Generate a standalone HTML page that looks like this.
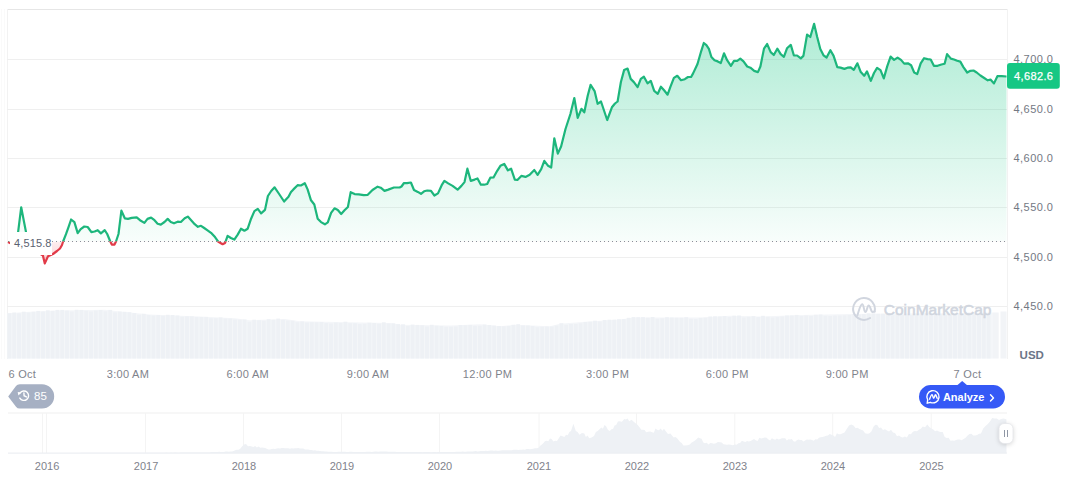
<!DOCTYPE html>
<html><head><meta charset="utf-8"><style>
html,body{margin:0;padding:0;background:#fff;}
body{width:1072px;height:477px;overflow:hidden;}
svg{display:block;}
</style></head><body>
<svg width="1072" height="477" viewBox="0 0 1072 477" font-family="'Liberation Sans', sans-serif">
<defs>
<linearGradient id="gfill" gradientUnits="userSpaceOnUse" x1="0" y1="23" x2="0" y2="241.5">
<stop offset="0" stop-color="#16c784" stop-opacity="0.345"/>
<stop offset="1" stop-color="#16c784" stop-opacity="0.03"/>
</linearGradient>
<linearGradient id="rfill" gradientUnits="userSpaceOnUse" x1="0" y1="241.5" x2="0" y2="264">
<stop offset="0" stop-color="#ea3943" stop-opacity="0.08"/>
<stop offset="1" stop-color="#ea3943" stop-opacity="0.25"/>
</linearGradient>
<clipPath id="above"><rect x="0" y="0" width="1072" height="241.5"/></clipPath>
<clipPath id="below"><rect x="0" y="241.5" width="1072" height="200"/></clipPath>
</defs>
<rect x="0" y="0" width="1072" height="477" fill="#fff"/>
<!-- frame -->
<line x1="1.5" y1="9" x2="1.5" y2="359" stroke="#fafafa" stroke-width="1"/>
<line x1="4.5" y1="9" x2="4.5" y2="359" stroke="#fafafa" stroke-width="1"/>
<line x1="7" y1="9.5" x2="1008" y2="9.5" stroke="#e6e6e6" stroke-width="1"/>
<line x1="7.5" y1="9" x2="7.5" y2="359" stroke="#f2f2f2" stroke-width="1"/>
<line x1="1007.5" y1="9" x2="1007.5" y2="359" stroke="#f2f2f2" stroke-width="1"/>
<line x1="7" y1="59.5" x2="1007" y2="59.5" stroke="#efefef" stroke-width="1"/>
<line x1="7" y1="109.5" x2="1007" y2="109.5" stroke="#efefef" stroke-width="1"/>
<line x1="7" y1="158.5" x2="1007" y2="158.5" stroke="#efefef" stroke-width="1"/>
<line x1="7" y1="207.5" x2="1007" y2="207.5" stroke="#efefef" stroke-width="1"/>
<line x1="7" y1="257.5" x2="1007" y2="257.5" stroke="#efefef" stroke-width="1"/>
<line x1="7" y1="306.5" x2="1007" y2="306.5" stroke="#efefef" stroke-width="1"/>
<!-- volume -->
<path d="M7.5,313.3 L25.0,312.1 L55.0,310.4 L105.0,309.7 L120.0,311.6 L150.0,314.6 L200.0,316.5 L235.0,318.2 L250.0,320.2 L285.0,318.9 L300.0,321.3 L350.0,322.3 L390.0,323.0 L400.0,324.7 L450.0,325.5 L480.0,324.3 L500.0,326.2 L515.0,324.7 L550.0,326.2 L560.0,323.8 L585.0,321.8 L620.0,319.4 L635.0,317.5 L670.0,317.5 L700.0,317.5 L730.0,315.8 L760.0,316.5 L800.0,315.0 L850.0,314.0 L900.0,313.6 L950.0,313.3 L993.0,312.6 L993,358.5 L7.5,358.5 Z" fill="#f4f6f9"/>
<rect x="7.50" y="313.3" width="3.8" height="45.2" fill="#eef1f5"/>
<rect x="12.30" y="312.6" width="3.8" height="45.9" fill="#eef1f5"/>
<rect x="17.10" y="313.3" width="3.8" height="45.2" fill="#eef1f5"/>
<rect x="21.90" y="311.7" width="3.8" height="46.8" fill="#eef1f5"/>
<rect x="26.70" y="312.5" width="3.8" height="46.0" fill="#eef1f5"/>
<rect x="31.50" y="311.8" width="3.8" height="46.7" fill="#eef1f5"/>
<rect x="36.30" y="310.9" width="3.8" height="47.6" fill="#eef1f5"/>
<rect x="41.10" y="311.6" width="3.8" height="46.9" fill="#eef1f5"/>
<rect x="45.90" y="310.3" width="3.8" height="48.2" fill="#eef1f5"/>
<rect x="50.70" y="310.9" width="3.8" height="47.6" fill="#eef1f5"/>
<rect x="55.50" y="309.9" width="3.8" height="48.6" fill="#eef1f5"/>
<rect x="60.30" y="309.9" width="3.8" height="48.6" fill="#eef1f5"/>
<rect x="65.10" y="310.6" width="3.8" height="47.9" fill="#eef1f5"/>
<rect x="69.90" y="311.4" width="3.8" height="47.1" fill="#eef1f5"/>
<rect x="74.70" y="309.8" width="3.8" height="48.7" fill="#eef1f5"/>
<rect x="79.50" y="309.9" width="3.8" height="48.6" fill="#eef1f5"/>
<rect x="84.30" y="310.7" width="3.8" height="47.8" fill="#eef1f5"/>
<rect x="89.10" y="311.4" width="3.8" height="47.1" fill="#eef1f5"/>
<rect x="93.90" y="310.5" width="3.8" height="48.0" fill="#eef1f5"/>
<rect x="98.70" y="310.0" width="3.8" height="48.5" fill="#eef1f5"/>
<rect x="103.50" y="311.3" width="3.8" height="47.2" fill="#eef1f5"/>
<rect x="108.30" y="309.9" width="3.8" height="48.6" fill="#eef1f5"/>
<rect x="113.10" y="312.3" width="3.8" height="46.2" fill="#eef1f5"/>
<rect x="117.90" y="311.6" width="3.8" height="46.9" fill="#eef1f5"/>
<rect x="122.70" y="311.8" width="3.8" height="46.7" fill="#eef1f5"/>
<rect x="127.50" y="312.2" width="3.8" height="46.3" fill="#eef1f5"/>
<rect x="132.30" y="313.1" width="3.8" height="45.4" fill="#eef1f5"/>
<rect x="137.10" y="314.7" width="3.8" height="43.8" fill="#eef1f5"/>
<rect x="141.90" y="313.8" width="3.8" height="44.7" fill="#eef1f5"/>
<rect x="146.70" y="315.1" width="3.8" height="43.4" fill="#eef1f5"/>
<rect x="151.50" y="315.5" width="3.8" height="43.0" fill="#eef1f5"/>
<rect x="156.30" y="315.1" width="3.8" height="43.4" fill="#eef1f5"/>
<rect x="161.10" y="315.7" width="3.8" height="42.8" fill="#eef1f5"/>
<rect x="165.90" y="314.8" width="3.8" height="43.7" fill="#eef1f5"/>
<rect x="170.70" y="315.0" width="3.8" height="43.5" fill="#eef1f5"/>
<rect x="175.50" y="315.5" width="3.8" height="43.0" fill="#eef1f5"/>
<rect x="180.30" y="316.7" width="3.8" height="41.8" fill="#eef1f5"/>
<rect x="185.10" y="316.3" width="3.8" height="42.2" fill="#eef1f5"/>
<rect x="189.90" y="316.3" width="3.8" height="42.2" fill="#eef1f5"/>
<rect x="194.70" y="317.1" width="3.8" height="41.4" fill="#eef1f5"/>
<rect x="199.50" y="317.0" width="3.8" height="41.5" fill="#eef1f5"/>
<rect x="204.30" y="316.9" width="3.8" height="41.6" fill="#eef1f5"/>
<rect x="209.10" y="318.2" width="3.8" height="40.3" fill="#eef1f5"/>
<rect x="213.90" y="318.2" width="3.8" height="40.3" fill="#eef1f5"/>
<rect x="218.70" y="317.4" width="3.8" height="41.1" fill="#eef1f5"/>
<rect x="223.50" y="318.4" width="3.8" height="40.1" fill="#eef1f5"/>
<rect x="228.30" y="318.5" width="3.8" height="40.0" fill="#eef1f5"/>
<rect x="233.10" y="319.5" width="3.8" height="39.0" fill="#eef1f5"/>
<rect x="237.90" y="319.8" width="3.8" height="38.7" fill="#eef1f5"/>
<rect x="242.70" y="319.5" width="3.8" height="39.0" fill="#eef1f5"/>
<rect x="247.50" y="321.7" width="3.8" height="36.8" fill="#eef1f5"/>
<rect x="252.30" y="319.7" width="3.8" height="38.8" fill="#eef1f5"/>
<rect x="257.10" y="320.2" width="3.8" height="38.3" fill="#eef1f5"/>
<rect x="261.90" y="320.8" width="3.8" height="37.7" fill="#eef1f5"/>
<rect x="266.70" y="319.2" width="3.8" height="39.3" fill="#eef1f5"/>
<rect x="271.50" y="319.8" width="3.8" height="38.7" fill="#eef1f5"/>
<rect x="276.30" y="318.6" width="3.8" height="39.9" fill="#eef1f5"/>
<rect x="281.10" y="319.8" width="3.8" height="38.7" fill="#eef1f5"/>
<rect x="285.90" y="320.4" width="3.8" height="38.1" fill="#eef1f5"/>
<rect x="290.70" y="320.8" width="3.8" height="37.7" fill="#eef1f5"/>
<rect x="295.50" y="322.2" width="3.8" height="36.3" fill="#eef1f5"/>
<rect x="300.30" y="321.4" width="3.8" height="37.1" fill="#eef1f5"/>
<rect x="305.10" y="322.4" width="3.8" height="36.1" fill="#eef1f5"/>
<rect x="309.90" y="322.2" width="3.8" height="36.3" fill="#eef1f5"/>
<rect x="314.70" y="322.3" width="3.8" height="36.2" fill="#eef1f5"/>
<rect x="319.50" y="322.1" width="3.8" height="36.4" fill="#eef1f5"/>
<rect x="324.30" y="323.1" width="3.8" height="35.4" fill="#eef1f5"/>
<rect x="329.10" y="323.4" width="3.8" height="35.1" fill="#eef1f5"/>
<rect x="333.90" y="322.5" width="3.8" height="36.0" fill="#eef1f5"/>
<rect x="338.70" y="323.0" width="3.8" height="35.5" fill="#eef1f5"/>
<rect x="343.50" y="321.7" width="3.8" height="36.8" fill="#eef1f5"/>
<rect x="348.30" y="323.2" width="3.8" height="35.3" fill="#eef1f5"/>
<rect x="353.10" y="323.2" width="3.8" height="35.3" fill="#eef1f5"/>
<rect x="357.90" y="324.1" width="3.8" height="34.4" fill="#eef1f5"/>
<rect x="362.70" y="323.8" width="3.8" height="34.7" fill="#eef1f5"/>
<rect x="367.50" y="322.7" width="3.8" height="35.8" fill="#eef1f5"/>
<rect x="372.30" y="323.0" width="3.8" height="35.5" fill="#eef1f5"/>
<rect x="377.10" y="323.7" width="3.8" height="34.8" fill="#eef1f5"/>
<rect x="381.90" y="322.3" width="3.8" height="36.2" fill="#eef1f5"/>
<rect x="386.70" y="323.4" width="3.8" height="35.1" fill="#eef1f5"/>
<rect x="391.50" y="323.3" width="3.8" height="35.2" fill="#eef1f5"/>
<rect x="396.30" y="324.1" width="3.8" height="34.4" fill="#eef1f5"/>
<rect x="401.10" y="324.3" width="3.8" height="34.2" fill="#eef1f5"/>
<rect x="405.90" y="325.9" width="3.8" height="32.6" fill="#eef1f5"/>
<rect x="410.70" y="324.6" width="3.8" height="33.9" fill="#eef1f5"/>
<rect x="415.50" y="324.9" width="3.8" height="33.6" fill="#eef1f5"/>
<rect x="420.30" y="325.3" width="3.8" height="33.2" fill="#eef1f5"/>
<rect x="425.10" y="326.4" width="3.8" height="32.1" fill="#eef1f5"/>
<rect x="429.90" y="324.8" width="3.8" height="33.7" fill="#eef1f5"/>
<rect x="434.70" y="325.7" width="3.8" height="32.8" fill="#eef1f5"/>
<rect x="439.50" y="326.0" width="3.8" height="32.5" fill="#eef1f5"/>
<rect x="444.30" y="326.8" width="3.8" height="31.7" fill="#eef1f5"/>
<rect x="449.10" y="326.7" width="3.8" height="31.8" fill="#eef1f5"/>
<rect x="453.90" y="326.6" width="3.8" height="31.9" fill="#eef1f5"/>
<rect x="458.70" y="325.1" width="3.8" height="33.4" fill="#eef1f5"/>
<rect x="463.50" y="325.2" width="3.8" height="33.3" fill="#eef1f5"/>
<rect x="468.30" y="324.9" width="3.8" height="33.6" fill="#eef1f5"/>
<rect x="473.10" y="325.8" width="3.8" height="32.7" fill="#eef1f5"/>
<rect x="477.90" y="325.8" width="3.8" height="32.7" fill="#eef1f5"/>
<rect x="482.70" y="324.5" width="3.8" height="34.0" fill="#eef1f5"/>
<rect x="487.50" y="325.0" width="3.8" height="33.5" fill="#eef1f5"/>
<rect x="492.30" y="325.6" width="3.8" height="32.9" fill="#eef1f5"/>
<rect x="497.10" y="326.0" width="3.8" height="32.5" fill="#eef1f5"/>
<rect x="501.90" y="326.3" width="3.8" height="32.2" fill="#eef1f5"/>
<rect x="506.70" y="326.0" width="3.8" height="32.5" fill="#eef1f5"/>
<rect x="511.50" y="324.8" width="3.8" height="33.7" fill="#eef1f5"/>
<rect x="516.30" y="324.2" width="3.8" height="34.3" fill="#eef1f5"/>
<rect x="521.10" y="325.4" width="3.8" height="33.1" fill="#eef1f5"/>
<rect x="525.90" y="325.5" width="3.8" height="33.0" fill="#eef1f5"/>
<rect x="530.70" y="326.1" width="3.8" height="32.4" fill="#eef1f5"/>
<rect x="535.50" y="327.2" width="3.8" height="31.3" fill="#eef1f5"/>
<rect x="540.30" y="326.8" width="3.8" height="31.7" fill="#eef1f5"/>
<rect x="545.10" y="326.6" width="3.8" height="31.9" fill="#eef1f5"/>
<rect x="549.90" y="326.5" width="3.8" height="32.0" fill="#eef1f5"/>
<rect x="554.70" y="325.5" width="3.8" height="33.0" fill="#eef1f5"/>
<rect x="559.50" y="323.2" width="3.8" height="35.3" fill="#eef1f5"/>
<rect x="564.30" y="324.7" width="3.8" height="33.8" fill="#eef1f5"/>
<rect x="569.10" y="324.0" width="3.8" height="34.5" fill="#eef1f5"/>
<rect x="573.90" y="323.9" width="3.8" height="34.6" fill="#eef1f5"/>
<rect x="578.70" y="323.3" width="3.8" height="35.2" fill="#eef1f5"/>
<rect x="583.50" y="322.0" width="3.8" height="36.5" fill="#eef1f5"/>
<rect x="588.30" y="321.7" width="3.8" height="36.8" fill="#eef1f5"/>
<rect x="593.10" y="320.7" width="3.8" height="37.8" fill="#eef1f5"/>
<rect x="597.90" y="321.6" width="3.8" height="36.9" fill="#eef1f5"/>
<rect x="602.70" y="320.0" width="3.8" height="38.5" fill="#eef1f5"/>
<rect x="607.50" y="319.7" width="3.8" height="38.8" fill="#eef1f5"/>
<rect x="612.30" y="319.7" width="3.8" height="38.8" fill="#eef1f5"/>
<rect x="617.10" y="319.2" width="3.8" height="39.3" fill="#eef1f5"/>
<rect x="621.90" y="319.1" width="3.8" height="39.4" fill="#eef1f5"/>
<rect x="626.70" y="317.8" width="3.8" height="40.7" fill="#eef1f5"/>
<rect x="631.50" y="317.1" width="3.8" height="41.4" fill="#eef1f5"/>
<rect x="636.30" y="317.2" width="3.8" height="41.3" fill="#eef1f5"/>
<rect x="641.10" y="317.1" width="3.8" height="41.4" fill="#eef1f5"/>
<rect x="645.90" y="317.7" width="3.8" height="40.8" fill="#eef1f5"/>
<rect x="650.70" y="317.0" width="3.8" height="41.5" fill="#eef1f5"/>
<rect x="655.50" y="318.8" width="3.8" height="39.7" fill="#eef1f5"/>
<rect x="660.30" y="318.3" width="3.8" height="40.2" fill="#eef1f5"/>
<rect x="665.10" y="317.2" width="3.8" height="41.3" fill="#eef1f5"/>
<rect x="669.90" y="317.5" width="3.8" height="41.0" fill="#eef1f5"/>
<rect x="674.70" y="317.7" width="3.8" height="40.8" fill="#eef1f5"/>
<rect x="679.50" y="317.7" width="3.8" height="40.8" fill="#eef1f5"/>
<rect x="684.30" y="317.2" width="3.8" height="41.3" fill="#eef1f5"/>
<rect x="689.10" y="318.8" width="3.8" height="39.7" fill="#eef1f5"/>
<rect x="693.90" y="319.1" width="3.8" height="39.4" fill="#eef1f5"/>
<rect x="698.70" y="317.9" width="3.8" height="40.6" fill="#eef1f5"/>
<rect x="703.50" y="317.7" width="3.8" height="40.8" fill="#eef1f5"/>
<rect x="708.30" y="316.5" width="3.8" height="42.0" fill="#eef1f5"/>
<rect x="713.10" y="316.3" width="3.8" height="42.2" fill="#eef1f5"/>
<rect x="717.90" y="316.5" width="3.8" height="42.0" fill="#eef1f5"/>
<rect x="722.70" y="316.1" width="3.8" height="42.4" fill="#eef1f5"/>
<rect x="727.50" y="317.1" width="3.8" height="41.4" fill="#eef1f5"/>
<rect x="732.30" y="315.7" width="3.8" height="42.8" fill="#eef1f5"/>
<rect x="737.10" y="315.5" width="3.8" height="43.0" fill="#eef1f5"/>
<rect x="741.90" y="317.6" width="3.8" height="40.9" fill="#eef1f5"/>
<rect x="746.70" y="316.8" width="3.8" height="41.7" fill="#eef1f5"/>
<rect x="751.50" y="316.1" width="3.8" height="42.4" fill="#eef1f5"/>
<rect x="756.30" y="317.1" width="3.8" height="41.4" fill="#eef1f5"/>
<rect x="761.10" y="315.8" width="3.8" height="42.7" fill="#eef1f5"/>
<rect x="765.90" y="316.8" width="3.8" height="41.7" fill="#eef1f5"/>
<rect x="770.70" y="317.6" width="3.8" height="40.9" fill="#eef1f5"/>
<rect x="775.50" y="317.1" width="3.8" height="41.4" fill="#eef1f5"/>
<rect x="780.30" y="316.6" width="3.8" height="41.9" fill="#eef1f5"/>
<rect x="785.10" y="315.5" width="3.8" height="43.0" fill="#eef1f5"/>
<rect x="789.90" y="315.5" width="3.8" height="43.0" fill="#eef1f5"/>
<rect x="794.70" y="314.9" width="3.8" height="43.6" fill="#eef1f5"/>
<rect x="799.50" y="316.1" width="3.8" height="42.4" fill="#eef1f5"/>
<rect x="804.30" y="315.4" width="3.8" height="43.1" fill="#eef1f5"/>
<rect x="809.10" y="315.9" width="3.8" height="42.6" fill="#eef1f5"/>
<rect x="813.90" y="314.8" width="3.8" height="43.7" fill="#eef1f5"/>
<rect x="818.70" y="314.5" width="3.8" height="44.0" fill="#eef1f5"/>
<rect x="823.50" y="315.7" width="3.8" height="42.8" fill="#eef1f5"/>
<rect x="828.30" y="316.0" width="3.8" height="42.5" fill="#eef1f5"/>
<rect x="833.10" y="315.6" width="3.8" height="42.9" fill="#eef1f5"/>
<rect x="837.90" y="315.4" width="3.8" height="43.1" fill="#eef1f5"/>
<rect x="842.70" y="315.3" width="3.8" height="43.2" fill="#eef1f5"/>
<rect x="847.50" y="315.0" width="3.8" height="43.5" fill="#eef1f5"/>
<rect x="852.30" y="313.9" width="3.8" height="44.6" fill="#eef1f5"/>
<rect x="857.10" y="314.5" width="3.8" height="44.0" fill="#eef1f5"/>
<rect x="861.90" y="314.1" width="3.8" height="44.4" fill="#eef1f5"/>
<rect x="866.70" y="313.3" width="3.8" height="45.2" fill="#eef1f5"/>
<rect x="871.50" y="313.3" width="3.8" height="45.2" fill="#eef1f5"/>
<rect x="876.30" y="313.8" width="3.8" height="44.7" fill="#eef1f5"/>
<rect x="881.10" y="313.7" width="3.8" height="44.8" fill="#eef1f5"/>
<rect x="885.90" y="314.6" width="3.8" height="43.9" fill="#eef1f5"/>
<rect x="890.70" y="315.2" width="3.8" height="43.3" fill="#eef1f5"/>
<rect x="895.50" y="314.0" width="3.8" height="44.5" fill="#eef1f5"/>
<rect x="900.30" y="315.0" width="3.8" height="43.5" fill="#eef1f5"/>
<rect x="905.10" y="315.1" width="3.8" height="43.4" fill="#eef1f5"/>
<rect x="909.90" y="315.0" width="3.8" height="43.5" fill="#eef1f5"/>
<rect x="914.70" y="313.7" width="3.8" height="44.8" fill="#eef1f5"/>
<rect x="919.50" y="313.4" width="3.8" height="45.1" fill="#eef1f5"/>
<rect x="924.30" y="313.3" width="3.8" height="45.2" fill="#eef1f5"/>
<rect x="929.10" y="313.2" width="3.8" height="45.3" fill="#eef1f5"/>
<rect x="933.90" y="313.2" width="3.8" height="45.3" fill="#eef1f5"/>
<rect x="938.70" y="314.1" width="3.8" height="44.4" fill="#eef1f5"/>
<rect x="943.50" y="314.7" width="3.8" height="43.8" fill="#eef1f5"/>
<rect x="948.30" y="314.5" width="3.8" height="44.0" fill="#eef1f5"/>
<rect x="953.10" y="313.7" width="3.8" height="44.8" fill="#eef1f5"/>
<rect x="957.90" y="314.0" width="3.8" height="44.5" fill="#eef1f5"/>
<rect x="962.70" y="314.2" width="3.8" height="44.3" fill="#eef1f5"/>
<rect x="967.50" y="312.6" width="3.8" height="45.9" fill="#eef1f5"/>
<rect x="972.30" y="313.8" width="3.8" height="44.7" fill="#eef1f5"/>
<rect x="977.10" y="314.2" width="3.8" height="44.3" fill="#eef1f5"/>
<rect x="981.90" y="313.9" width="3.8" height="44.6" fill="#eef1f5"/>
<rect x="986.70" y="313.7" width="3.8" height="44.8" fill="#eef1f5"/>
<rect x="993" y="312.5" width="5.7" height="46" fill="#f2f4f7"/>
<rect x="1000.5" y="311.5" width="6" height="47" fill="#f2f4f7"/>
<!-- watermark -->
<g fill="none" stroke="#cfd4de" stroke-width="2" stroke-linecap="round" stroke-linejoin="round" opacity="0.95">
<path d="M870.1,318 A10.9,10.9 0 1 1 874.6,311.5"/>
<path d="M857.3,315.5 C859.3,309.5 860.4,304.3 862.2,304.3 C864,304.3 863.8,312 865.4,312 C867,312 867.1,305.5 868.7,305.5 C870.4,305.5 870.8,311.8 872.6,312 L874.6,311.6"/>
</g>
<text x="883.8" y="315.4" font-size="15.5" fill="#d0d5de" stroke="#d0d5de" stroke-width="0.55">CoinMarketCap</text>
<!-- area fills -->
<path d="M8.0,242.0 L12.0,244.0 L16.5,245.0 L21.2,207.3 L28.5,245.0 L34.0,250.0 L39.0,253.0 L42.9,255.5 L44.8,263.4 L48.0,256.3 L53.0,254.0 L57.0,251.0 L60.0,248.5 L62.0,245.0 L63.1,241.5 L66.0,234.2 L68.6,226.9 L71.1,219.5 L74.4,222.1 L77.7,233.1 L80.7,229.1 L84.3,226.5 L87.7,227.0 L91.4,232.1 L94.6,231.5 L97.7,230.2 L100.9,233.4 L104.7,230.2 L107.2,234.0 L110.3,241.5 L111.8,244.6 L114.5,244.6 L116.0,241.5 L118.5,234.0 L121.4,210.7 L124.8,218.3 L128.0,218.9 L131.7,217.9 L136.7,217.4 L140.0,220.2 L144.4,222.9 L147.5,218.9 L151.1,217.6 L154.5,220.2 L157.6,223.7 L160.8,224.6 L164.5,222.0 L167.7,218.9 L170.8,222.0 L174.0,223.3 L177.7,221.7 L180.9,222.0 L184.7,218.3 L187.8,216.6 L191.6,220.8 L194.7,224.2 L197.9,226.8 L201.0,225.8 L204.2,228.0 L207.9,230.6 L211.7,233.4 L215.0,237.1 L218.4,241.8 L222.6,244.2 L225.1,243.0 L227.6,235.8 L230.9,238.0 L234.3,239.6 L237.7,234.6 L241.0,228.7 L244.4,230.7 L247.7,228.7 L251.1,218.7 L254.4,211.1 L257.8,208.9 L261.1,213.3 L265.0,209.9 L267.9,196.0 L271.2,191.0 L274.6,187.3 L278.8,193.5 L284.1,201.5 L288.5,196.8 L291.0,192.0 L293.4,189.4 L297.6,185.2 L300.9,185.5 L304.8,183.2 L307.6,189.4 L311.0,200.3 L314.3,204.5 L317.7,218.7 L321.0,222.1 L324.9,224.3 L327.8,222.4 L331.1,212.9 L334.5,208.3 L337.8,210.0 L341.2,214.0 L344.5,210.3 L347.9,207.0 L350.7,192.2 L354.6,194.1 L358.8,194.4 L363.8,195.2 L367.5,195.0 L372.5,190.0 L377.6,186.7 L380.7,187.7 L384.5,190.9 L388.3,189.6 L393.9,187.5 L399.6,187.5 L401.5,186.5 L404.0,183.0 L407.1,183.1 L410.9,182.5 L414.0,190.0 L417.8,191.9 L421.0,193.8 L424.1,191.3 L427.3,190.5 L431.0,190.9 L434.4,195.5 L438.0,193.4 L441.7,185.2 L444.4,180.9 L448.2,183.4 L452.6,185.9 L457.6,189.7 L461.4,185.9 L464.5,182.1 L467.4,168.7 L470.8,180.9 L474.6,179.6 L477.5,178.4 L480.9,184.7 L484.0,184.7 L487.2,184.0 L490.3,177.7 L493.5,177.5 L497.2,170.8 L500.4,165.8 L504.2,163.9 L507.9,170.4 L511.1,168.7 L514.8,179.6 L517.4,180.0 L521.3,175.9 L525.5,176.9 L529.7,174.8 L534.3,170.0 L537.6,174.8 L541.2,169.2 L544.3,160.8 L548.1,165.8 L551.2,167.5 L554.3,138.3 L557.8,153.6 L561.1,146.5 L565.5,129.0 L570.4,114.0 L574.3,98.0 L577.7,117.8 L581.4,108.8 L584.3,112.3 L587.7,95.7 L590.6,84.9 L594.6,91.1 L597.6,103.8 L601.0,101.5 L607.2,120.0 L611.9,107.3 L615.0,103.5 L617.6,101.5 L620.9,82.0 L624.1,70.1 L627.6,68.6 L630.7,78.9 L633.9,82.1 L637.6,87.1 L640.8,78.9 L643.9,76.7 L647.5,83.3 L650.8,80.8 L654.2,90.9 L657.8,93.8 L660.9,86.7 L664.1,90.3 L667.6,94.7 L670.3,87.1 L673.9,77.9 L677.3,75.8 L681.0,80.2 L684.8,79.2 L688.0,77.0 L691.1,77.0 L693.1,73.4 L697.5,64.0 L701.3,50.8 L703.8,43.0 L706.4,45.1 L708.9,48.9 L711.4,57.0 L714.5,60.2 L717.7,61.4 L720.8,63.0 L724.0,53.3 L727.1,60.2 L730.9,65.8 L734.0,60.8 L737.2,60.8 L740.3,58.7 L743.5,61.4 L747.2,66.5 L750.4,67.7 L754.2,70.9 L757.9,72.1 L760.4,66.5 L764.0,48.6 L767.1,44.0 L770.7,52.1 L773.8,55.0 L777.3,48.7 L780.7,54.2 L783.9,56.8 L787.0,48.3 L790.8,44.9 L793.9,55.5 L797.1,55.5 L800.8,58.4 L803.4,55.9 L807.1,34.5 L810.3,37.0 L814.1,23.8 L817.2,37.0 L820.3,49.0 L823.5,55.3 L826.6,57.5 L830.4,50.2 L833.6,55.9 L837.3,67.2 L840.5,67.6 L844.4,68.9 L847.5,67.7 L850.7,67.4 L853.8,69.9 L857.4,63.3 L860.8,72.1 L864.2,75.8 L867.0,71.4 L870.8,80.9 L874.0,73.0 L877.1,67.9 L880.5,70.2 L883.8,78.4 L887.2,66.4 L890.6,56.6 L894.1,59.9 L897.6,57.6 L901.0,59.9 L904.2,63.6 L907.9,63.3 L911.1,65.2 L914.2,72.5 L917.2,74.1 L920.7,63.3 L924.1,58.2 L927.6,59.1 L930.7,59.5 L933.9,65.8 L937.6,65.8 L941.4,64.5 L944.6,63.7 L947.1,54.1 L950.9,58.6 L954.0,59.5 L957.2,60.8 L960.3,61.6 L963.4,67.1 L967.2,72.5 L970.4,70.8 L973.5,70.5 L976.7,72.5 L980.4,75.5 L984.2,78.0 L987.7,80.3 L990.5,79.6 L994.0,83.4 L997.4,76.2 L1001.8,76.2 L1006.5,76.5 L1006.5,241.5 L8.0,241.5 Z" fill="url(#gfill)" clip-path="url(#above)"/>
<path d="M8.0,242.0 L12.0,244.0 L16.5,245.0 L21.2,207.3 L28.5,245.0 L34.0,250.0 L39.0,253.0 L42.9,255.5 L44.8,263.4 L48.0,256.3 L53.0,254.0 L57.0,251.0 L60.0,248.5 L62.0,245.0 L63.1,241.5 L66.0,234.2 L68.6,226.9 L71.1,219.5 L74.4,222.1 L77.7,233.1 L80.7,229.1 L84.3,226.5 L87.7,227.0 L91.4,232.1 L94.6,231.5 L97.7,230.2 L100.9,233.4 L104.7,230.2 L107.2,234.0 L110.3,241.5 L111.8,244.6 L114.5,244.6 L116.0,241.5 L118.5,234.0 L121.4,210.7 L124.8,218.3 L128.0,218.9 L131.7,217.9 L136.7,217.4 L140.0,220.2 L144.4,222.9 L147.5,218.9 L151.1,217.6 L154.5,220.2 L157.6,223.7 L160.8,224.6 L164.5,222.0 L167.7,218.9 L170.8,222.0 L174.0,223.3 L177.7,221.7 L180.9,222.0 L184.7,218.3 L187.8,216.6 L191.6,220.8 L194.7,224.2 L197.9,226.8 L201.0,225.8 L204.2,228.0 L207.9,230.6 L211.7,233.4 L215.0,237.1 L218.4,241.8 L222.6,244.2 L225.1,243.0 L227.6,235.8 L230.9,238.0 L234.3,239.6 L237.7,234.6 L241.0,228.7 L244.4,230.7 L247.7,228.7 L251.1,218.7 L254.4,211.1 L257.8,208.9 L261.1,213.3 L265.0,209.9 L267.9,196.0 L271.2,191.0 L274.6,187.3 L278.8,193.5 L284.1,201.5 L288.5,196.8 L291.0,192.0 L293.4,189.4 L297.6,185.2 L300.9,185.5 L304.8,183.2 L307.6,189.4 L311.0,200.3 L314.3,204.5 L317.7,218.7 L321.0,222.1 L324.9,224.3 L327.8,222.4 L331.1,212.9 L334.5,208.3 L337.8,210.0 L341.2,214.0 L344.5,210.3 L347.9,207.0 L350.7,192.2 L354.6,194.1 L358.8,194.4 L363.8,195.2 L367.5,195.0 L372.5,190.0 L377.6,186.7 L380.7,187.7 L384.5,190.9 L388.3,189.6 L393.9,187.5 L399.6,187.5 L401.5,186.5 L404.0,183.0 L407.1,183.1 L410.9,182.5 L414.0,190.0 L417.8,191.9 L421.0,193.8 L424.1,191.3 L427.3,190.5 L431.0,190.9 L434.4,195.5 L438.0,193.4 L441.7,185.2 L444.4,180.9 L448.2,183.4 L452.6,185.9 L457.6,189.7 L461.4,185.9 L464.5,182.1 L467.4,168.7 L470.8,180.9 L474.6,179.6 L477.5,178.4 L480.9,184.7 L484.0,184.7 L487.2,184.0 L490.3,177.7 L493.5,177.5 L497.2,170.8 L500.4,165.8 L504.2,163.9 L507.9,170.4 L511.1,168.7 L514.8,179.6 L517.4,180.0 L521.3,175.9 L525.5,176.9 L529.7,174.8 L534.3,170.0 L537.6,174.8 L541.2,169.2 L544.3,160.8 L548.1,165.8 L551.2,167.5 L554.3,138.3 L557.8,153.6 L561.1,146.5 L565.5,129.0 L570.4,114.0 L574.3,98.0 L577.7,117.8 L581.4,108.8 L584.3,112.3 L587.7,95.7 L590.6,84.9 L594.6,91.1 L597.6,103.8 L601.0,101.5 L607.2,120.0 L611.9,107.3 L615.0,103.5 L617.6,101.5 L620.9,82.0 L624.1,70.1 L627.6,68.6 L630.7,78.9 L633.9,82.1 L637.6,87.1 L640.8,78.9 L643.9,76.7 L647.5,83.3 L650.8,80.8 L654.2,90.9 L657.8,93.8 L660.9,86.7 L664.1,90.3 L667.6,94.7 L670.3,87.1 L673.9,77.9 L677.3,75.8 L681.0,80.2 L684.8,79.2 L688.0,77.0 L691.1,77.0 L693.1,73.4 L697.5,64.0 L701.3,50.8 L703.8,43.0 L706.4,45.1 L708.9,48.9 L711.4,57.0 L714.5,60.2 L717.7,61.4 L720.8,63.0 L724.0,53.3 L727.1,60.2 L730.9,65.8 L734.0,60.8 L737.2,60.8 L740.3,58.7 L743.5,61.4 L747.2,66.5 L750.4,67.7 L754.2,70.9 L757.9,72.1 L760.4,66.5 L764.0,48.6 L767.1,44.0 L770.7,52.1 L773.8,55.0 L777.3,48.7 L780.7,54.2 L783.9,56.8 L787.0,48.3 L790.8,44.9 L793.9,55.5 L797.1,55.5 L800.8,58.4 L803.4,55.9 L807.1,34.5 L810.3,37.0 L814.1,23.8 L817.2,37.0 L820.3,49.0 L823.5,55.3 L826.6,57.5 L830.4,50.2 L833.6,55.9 L837.3,67.2 L840.5,67.6 L844.4,68.9 L847.5,67.7 L850.7,67.4 L853.8,69.9 L857.4,63.3 L860.8,72.1 L864.2,75.8 L867.0,71.4 L870.8,80.9 L874.0,73.0 L877.1,67.9 L880.5,70.2 L883.8,78.4 L887.2,66.4 L890.6,56.6 L894.1,59.9 L897.6,57.6 L901.0,59.9 L904.2,63.6 L907.9,63.3 L911.1,65.2 L914.2,72.5 L917.2,74.1 L920.7,63.3 L924.1,58.2 L927.6,59.1 L930.7,59.5 L933.9,65.8 L937.6,65.8 L941.4,64.5 L944.6,63.7 L947.1,54.1 L950.9,58.6 L954.0,59.5 L957.2,60.8 L960.3,61.6 L963.4,67.1 L967.2,72.5 L970.4,70.8 L973.5,70.5 L976.7,72.5 L980.4,75.5 L984.2,78.0 L987.7,80.3 L990.5,79.6 L994.0,83.4 L997.4,76.2 L1001.8,76.2 L1006.5,76.5 L1006.5,241.5 L8.0,241.5 Z" fill="url(#rfill)" clip-path="url(#below)"/>
<!-- baseline -->
<line x1="8" y1="241.5" x2="1007" y2="241.5" stroke="#8a8f99" stroke-width="1" stroke-dasharray="1 3"/>
<!-- line -->
<path d="M8.0,242.0 L12.0,244.0 L16.5,245.0 L21.2,207.3 L28.5,245.0 L34.0,250.0 L39.0,253.0 L42.9,255.5 L44.8,263.4 L48.0,256.3 L53.0,254.0 L57.0,251.0 L60.0,248.5 L62.0,245.0 L63.1,241.5 L66.0,234.2 L68.6,226.9 L71.1,219.5 L74.4,222.1 L77.7,233.1 L80.7,229.1 L84.3,226.5 L87.7,227.0 L91.4,232.1 L94.6,231.5 L97.7,230.2 L100.9,233.4 L104.7,230.2 L107.2,234.0 L110.3,241.5 L111.8,244.6 L114.5,244.6 L116.0,241.5 L118.5,234.0 L121.4,210.7 L124.8,218.3 L128.0,218.9 L131.7,217.9 L136.7,217.4 L140.0,220.2 L144.4,222.9 L147.5,218.9 L151.1,217.6 L154.5,220.2 L157.6,223.7 L160.8,224.6 L164.5,222.0 L167.7,218.9 L170.8,222.0 L174.0,223.3 L177.7,221.7 L180.9,222.0 L184.7,218.3 L187.8,216.6 L191.6,220.8 L194.7,224.2 L197.9,226.8 L201.0,225.8 L204.2,228.0 L207.9,230.6 L211.7,233.4 L215.0,237.1 L218.4,241.8 L222.6,244.2 L225.1,243.0 L227.6,235.8 L230.9,238.0 L234.3,239.6 L237.7,234.6 L241.0,228.7 L244.4,230.7 L247.7,228.7 L251.1,218.7 L254.4,211.1 L257.8,208.9 L261.1,213.3 L265.0,209.9 L267.9,196.0 L271.2,191.0 L274.6,187.3 L278.8,193.5 L284.1,201.5 L288.5,196.8 L291.0,192.0 L293.4,189.4 L297.6,185.2 L300.9,185.5 L304.8,183.2 L307.6,189.4 L311.0,200.3 L314.3,204.5 L317.7,218.7 L321.0,222.1 L324.9,224.3 L327.8,222.4 L331.1,212.9 L334.5,208.3 L337.8,210.0 L341.2,214.0 L344.5,210.3 L347.9,207.0 L350.7,192.2 L354.6,194.1 L358.8,194.4 L363.8,195.2 L367.5,195.0 L372.5,190.0 L377.6,186.7 L380.7,187.7 L384.5,190.9 L388.3,189.6 L393.9,187.5 L399.6,187.5 L401.5,186.5 L404.0,183.0 L407.1,183.1 L410.9,182.5 L414.0,190.0 L417.8,191.9 L421.0,193.8 L424.1,191.3 L427.3,190.5 L431.0,190.9 L434.4,195.5 L438.0,193.4 L441.7,185.2 L444.4,180.9 L448.2,183.4 L452.6,185.9 L457.6,189.7 L461.4,185.9 L464.5,182.1 L467.4,168.7 L470.8,180.9 L474.6,179.6 L477.5,178.4 L480.9,184.7 L484.0,184.7 L487.2,184.0 L490.3,177.7 L493.5,177.5 L497.2,170.8 L500.4,165.8 L504.2,163.9 L507.9,170.4 L511.1,168.7 L514.8,179.6 L517.4,180.0 L521.3,175.9 L525.5,176.9 L529.7,174.8 L534.3,170.0 L537.6,174.8 L541.2,169.2 L544.3,160.8 L548.1,165.8 L551.2,167.5 L554.3,138.3 L557.8,153.6 L561.1,146.5 L565.5,129.0 L570.4,114.0 L574.3,98.0 L577.7,117.8 L581.4,108.8 L584.3,112.3 L587.7,95.7 L590.6,84.9 L594.6,91.1 L597.6,103.8 L601.0,101.5 L607.2,120.0 L611.9,107.3 L615.0,103.5 L617.6,101.5 L620.9,82.0 L624.1,70.1 L627.6,68.6 L630.7,78.9 L633.9,82.1 L637.6,87.1 L640.8,78.9 L643.9,76.7 L647.5,83.3 L650.8,80.8 L654.2,90.9 L657.8,93.8 L660.9,86.7 L664.1,90.3 L667.6,94.7 L670.3,87.1 L673.9,77.9 L677.3,75.8 L681.0,80.2 L684.8,79.2 L688.0,77.0 L691.1,77.0 L693.1,73.4 L697.5,64.0 L701.3,50.8 L703.8,43.0 L706.4,45.1 L708.9,48.9 L711.4,57.0 L714.5,60.2 L717.7,61.4 L720.8,63.0 L724.0,53.3 L727.1,60.2 L730.9,65.8 L734.0,60.8 L737.2,60.8 L740.3,58.7 L743.5,61.4 L747.2,66.5 L750.4,67.7 L754.2,70.9 L757.9,72.1 L760.4,66.5 L764.0,48.6 L767.1,44.0 L770.7,52.1 L773.8,55.0 L777.3,48.7 L780.7,54.2 L783.9,56.8 L787.0,48.3 L790.8,44.9 L793.9,55.5 L797.1,55.5 L800.8,58.4 L803.4,55.9 L807.1,34.5 L810.3,37.0 L814.1,23.8 L817.2,37.0 L820.3,49.0 L823.5,55.3 L826.6,57.5 L830.4,50.2 L833.6,55.9 L837.3,67.2 L840.5,67.6 L844.4,68.9 L847.5,67.7 L850.7,67.4 L853.8,69.9 L857.4,63.3 L860.8,72.1 L864.2,75.8 L867.0,71.4 L870.8,80.9 L874.0,73.0 L877.1,67.9 L880.5,70.2 L883.8,78.4 L887.2,66.4 L890.6,56.6 L894.1,59.9 L897.6,57.6 L901.0,59.9 L904.2,63.6 L907.9,63.3 L911.1,65.2 L914.2,72.5 L917.2,74.1 L920.7,63.3 L924.1,58.2 L927.6,59.1 L930.7,59.5 L933.9,65.8 L937.6,65.8 L941.4,64.5 L944.6,63.7 L947.1,54.1 L950.9,58.6 L954.0,59.5 L957.2,60.8 L960.3,61.6 L963.4,67.1 L967.2,72.5 L970.4,70.8 L973.5,70.5 L976.7,72.5 L980.4,75.5 L984.2,78.0 L987.7,80.3 L990.5,79.6 L994.0,83.4 L997.4,76.2 L1001.8,76.2 L1006.5,76.5" fill="none" stroke="#1db67c" stroke-width="2.2" stroke-linejoin="round" clip-path="url(#above)"/>
<path d="M8.0,242.0 L12.0,244.0 L16.5,245.0 L21.2,207.3 L28.5,245.0 L34.0,250.0 L39.0,253.0 L42.9,255.5 L44.8,263.4 L48.0,256.3 L53.0,254.0 L57.0,251.0 L60.0,248.5 L62.0,245.0 L63.1,241.5 L66.0,234.2 L68.6,226.9 L71.1,219.5 L74.4,222.1 L77.7,233.1 L80.7,229.1 L84.3,226.5 L87.7,227.0 L91.4,232.1 L94.6,231.5 L97.7,230.2 L100.9,233.4 L104.7,230.2 L107.2,234.0 L110.3,241.5 L111.8,244.6 L114.5,244.6 L116.0,241.5 L118.5,234.0 L121.4,210.7 L124.8,218.3 L128.0,218.9 L131.7,217.9 L136.7,217.4 L140.0,220.2 L144.4,222.9 L147.5,218.9 L151.1,217.6 L154.5,220.2 L157.6,223.7 L160.8,224.6 L164.5,222.0 L167.7,218.9 L170.8,222.0 L174.0,223.3 L177.7,221.7 L180.9,222.0 L184.7,218.3 L187.8,216.6 L191.6,220.8 L194.7,224.2 L197.9,226.8 L201.0,225.8 L204.2,228.0 L207.9,230.6 L211.7,233.4 L215.0,237.1 L218.4,241.8 L222.6,244.2 L225.1,243.0 L227.6,235.8 L230.9,238.0 L234.3,239.6 L237.7,234.6 L241.0,228.7 L244.4,230.7 L247.7,228.7 L251.1,218.7 L254.4,211.1 L257.8,208.9 L261.1,213.3 L265.0,209.9 L267.9,196.0 L271.2,191.0 L274.6,187.3 L278.8,193.5 L284.1,201.5 L288.5,196.8 L291.0,192.0 L293.4,189.4 L297.6,185.2 L300.9,185.5 L304.8,183.2 L307.6,189.4 L311.0,200.3 L314.3,204.5 L317.7,218.7 L321.0,222.1 L324.9,224.3 L327.8,222.4 L331.1,212.9 L334.5,208.3 L337.8,210.0 L341.2,214.0 L344.5,210.3 L347.9,207.0 L350.7,192.2 L354.6,194.1 L358.8,194.4 L363.8,195.2 L367.5,195.0 L372.5,190.0 L377.6,186.7 L380.7,187.7 L384.5,190.9 L388.3,189.6 L393.9,187.5 L399.6,187.5 L401.5,186.5 L404.0,183.0 L407.1,183.1 L410.9,182.5 L414.0,190.0 L417.8,191.9 L421.0,193.8 L424.1,191.3 L427.3,190.5 L431.0,190.9 L434.4,195.5 L438.0,193.4 L441.7,185.2 L444.4,180.9 L448.2,183.4 L452.6,185.9 L457.6,189.7 L461.4,185.9 L464.5,182.1 L467.4,168.7 L470.8,180.9 L474.6,179.6 L477.5,178.4 L480.9,184.7 L484.0,184.7 L487.2,184.0 L490.3,177.7 L493.5,177.5 L497.2,170.8 L500.4,165.8 L504.2,163.9 L507.9,170.4 L511.1,168.7 L514.8,179.6 L517.4,180.0 L521.3,175.9 L525.5,176.9 L529.7,174.8 L534.3,170.0 L537.6,174.8 L541.2,169.2 L544.3,160.8 L548.1,165.8 L551.2,167.5 L554.3,138.3 L557.8,153.6 L561.1,146.5 L565.5,129.0 L570.4,114.0 L574.3,98.0 L577.7,117.8 L581.4,108.8 L584.3,112.3 L587.7,95.7 L590.6,84.9 L594.6,91.1 L597.6,103.8 L601.0,101.5 L607.2,120.0 L611.9,107.3 L615.0,103.5 L617.6,101.5 L620.9,82.0 L624.1,70.1 L627.6,68.6 L630.7,78.9 L633.9,82.1 L637.6,87.1 L640.8,78.9 L643.9,76.7 L647.5,83.3 L650.8,80.8 L654.2,90.9 L657.8,93.8 L660.9,86.7 L664.1,90.3 L667.6,94.7 L670.3,87.1 L673.9,77.9 L677.3,75.8 L681.0,80.2 L684.8,79.2 L688.0,77.0 L691.1,77.0 L693.1,73.4 L697.5,64.0 L701.3,50.8 L703.8,43.0 L706.4,45.1 L708.9,48.9 L711.4,57.0 L714.5,60.2 L717.7,61.4 L720.8,63.0 L724.0,53.3 L727.1,60.2 L730.9,65.8 L734.0,60.8 L737.2,60.8 L740.3,58.7 L743.5,61.4 L747.2,66.5 L750.4,67.7 L754.2,70.9 L757.9,72.1 L760.4,66.5 L764.0,48.6 L767.1,44.0 L770.7,52.1 L773.8,55.0 L777.3,48.7 L780.7,54.2 L783.9,56.8 L787.0,48.3 L790.8,44.9 L793.9,55.5 L797.1,55.5 L800.8,58.4 L803.4,55.9 L807.1,34.5 L810.3,37.0 L814.1,23.8 L817.2,37.0 L820.3,49.0 L823.5,55.3 L826.6,57.5 L830.4,50.2 L833.6,55.9 L837.3,67.2 L840.5,67.6 L844.4,68.9 L847.5,67.7 L850.7,67.4 L853.8,69.9 L857.4,63.3 L860.8,72.1 L864.2,75.8 L867.0,71.4 L870.8,80.9 L874.0,73.0 L877.1,67.9 L880.5,70.2 L883.8,78.4 L887.2,66.4 L890.6,56.6 L894.1,59.9 L897.6,57.6 L901.0,59.9 L904.2,63.6 L907.9,63.3 L911.1,65.2 L914.2,72.5 L917.2,74.1 L920.7,63.3 L924.1,58.2 L927.6,59.1 L930.7,59.5 L933.9,65.8 L937.6,65.8 L941.4,64.5 L944.6,63.7 L947.1,54.1 L950.9,58.6 L954.0,59.5 L957.2,60.8 L960.3,61.6 L963.4,67.1 L967.2,72.5 L970.4,70.8 L973.5,70.5 L976.7,72.5 L980.4,75.5 L984.2,78.0 L987.7,80.3 L990.5,79.6 L994.0,83.4 L997.4,76.2 L1001.8,76.2 L1006.5,76.5" fill="none" stroke="#e23a48" stroke-width="2.2" stroke-linejoin="round" clip-path="url(#below)"/>
<!-- open label -->
<rect x="10" y="232" width="42" height="23" fill="#fff"/>
<text x="14" y="247" font-size="11" letter-spacing="0.12" fill="#5a6170">4,515.8</text>
<!-- y labels -->
<text x="1013.5" y="62.8" font-size="11" letter-spacing="0.45" fill="#737883">4,700.0</text>
<text x="1013.5" y="112.8" font-size="11" letter-spacing="0.45" fill="#737883">4,650.0</text>
<text x="1013.5" y="161.8" font-size="11" letter-spacing="0.45" fill="#737883">4,600.0</text>
<text x="1013.5" y="210.8" font-size="11" letter-spacing="0.45" fill="#737883">4,550.0</text>
<text x="1013.5" y="260.8" font-size="11" letter-spacing="0.45" fill="#737883">4,500.0</text>
<text x="1013.5" y="309.8" font-size="11" letter-spacing="0.45" fill="#737883">4,450.0</text>
<!-- price badge -->
<rect x="1007" y="63" width="52.8" height="25.7" rx="3" fill="#16c784"/>
<text x="1014" y="79.8" font-size="11" letter-spacing="0.38" fill="#fff" stroke="#fff" stroke-width="0.25">4,682.6</text>
<text x="1019.6" y="359.2" font-size="11.5" font-weight="bold" fill="#6b7588">USD</text>
<!-- x labels -->
<text x="8.4" y="378" font-size="11" letter-spacing="0.3" text-anchor="start" fill="#7f838c">6 Oct</text>
<text x="128" y="378" font-size="11" letter-spacing="0.3" text-anchor="middle" fill="#7f838c">3:00 AM</text>
<text x="247.8" y="378" font-size="11" letter-spacing="0.3" text-anchor="middle" fill="#7f838c">6:00 AM</text>
<text x="368" y="378" font-size="11" letter-spacing="0.3" text-anchor="middle" fill="#7f838c">9:00 AM</text>
<text x="487.6" y="378" font-size="11" letter-spacing="0.3" text-anchor="middle" fill="#7f838c">12:00 PM</text>
<text x="607.6" y="378" font-size="11" letter-spacing="0.3" text-anchor="middle" fill="#7f838c">3:00 PM</text>
<text x="727.3" y="378" font-size="11" letter-spacing="0.3" text-anchor="middle" fill="#7f838c">6:00 PM</text>
<text x="847.2" y="378" font-size="11" letter-spacing="0.3" text-anchor="middle" fill="#7f838c">9:00 PM</text>
<text x="967.5" y="378" font-size="11" letter-spacing="0.3" text-anchor="middle" fill="#7f838c">7 Oct</text>
<!-- history badge -->
<path d="M8.2,396.4 L16,386.1 Q17.3,384.2 19.8,384.2 L42,384.2 A12.2,12.2 0 0 1 42,408.6 L19.8,408.6 Q17.3,408.6 16,406.7 Z" fill="#a6b0c3"/>
<g fill="none" stroke="#fff" stroke-width="1.4" stroke-linecap="round">
<path d="M20.05,393.0 A4.7,4.7 0 1 1 19.83,398.05"/>
<path d="M23.9,392.9 L24.1,395.7 L26.4,396.9"/>
</g>
<path d="M17.7,392.0 L21.3,392.6 L18.4,395.6 Z" fill="#fff"/>
<text x="34" y="400" font-size="11.5" letter-spacing="0.2" fill="#fff">85</text>
<!-- analyze button -->
<path d="M957.5,385 L962.2,381 L966.9,385 Z" fill="#3559f6"/>
<rect x="919" y="385" width="86" height="23.5" rx="11.75" fill="#3559f6"/>
<g fill="none" stroke="#fff" stroke-width="1.4" stroke-linecap="round" stroke-linejoin="round">
<path d="M927.7,399.85 A6.1,6.1 0 1 1 930.4,402.3 L927.2,403.2 Z"/>
<path d="M929.6,399.2 C930.6,396.5 931.2,394.6 932,394.6 C932.9,394.6 932.8,398.2 933.7,398.2 C934.5,398.2 934.6,394.8 935.5,394.8 C936.3,394.8 936.5,397.5 937.2,398.3"/>
</g>
<text x="942.9" y="401" font-size="11" font-weight="bold" fill="#fff">Analyze</text>
<path d="M990.5,394.8 L993.5,397.9 L990.5,401" fill="none" stroke="#fff" stroke-width="1.4" stroke-linecap="round" stroke-linejoin="round"/>
<!-- navigator -->
<line x1="8" y1="413" x2="1007" y2="413" stroke="#efefef" stroke-width="1"/>
<line x1="42.5" y1="413" x2="42.5" y2="453" stroke="#f4f4f4" stroke-width="1"/>
<line x1="46.5" y1="413" x2="46.5" y2="453" stroke="#f4f4f4" stroke-width="1"/>
<line x1="145.5" y1="413" x2="145.5" y2="453" stroke="#f4f4f4" stroke-width="1"/>
<line x1="243.5" y1="413" x2="243.5" y2="453" stroke="#f4f4f4" stroke-width="1"/>
<line x1="341.5" y1="413" x2="341.5" y2="453" stroke="#f4f4f4" stroke-width="1"/>
<line x1="439.5" y1="413" x2="439.5" y2="453" stroke="#f4f4f4" stroke-width="1"/>
<line x1="539" y1="413" x2="539" y2="453" stroke="#f4f4f4" stroke-width="1"/>
<line x1="636.5" y1="413" x2="636.5" y2="453" stroke="#f4f4f4" stroke-width="1"/>
<line x1="734.8" y1="413" x2="734.8" y2="453" stroke="#f4f4f4" stroke-width="1"/>
<line x1="832.7" y1="413" x2="832.7" y2="453" stroke="#f4f4f4" stroke-width="1"/>
<line x1="931.2" y1="413" x2="931.2" y2="453" stroke="#f4f4f4" stroke-width="1"/>
<path d="M8.0,453.0 L9.6,453.0 L11.2,453.0 L12.8,453.0 L14.4,453.0 L16.0,453.0 L17.6,453.0 L19.2,453.0 L20.8,453.0 L22.4,453.0 L24.0,453.0 L25.6,453.0 L27.2,453.0 L28.8,453.0 L30.4,453.0 L32.0,453.0 L33.6,452.9 L35.2,452.9 L36.8,452.9 L38.4,452.9 L40.0,452.9 L41.6,452.9 L43.2,452.9 L44.8,452.9 L46.4,452.9 L48.0,452.9 L49.6,452.9 L51.2,452.9 L52.8,452.9 L54.4,452.9 L56.0,452.9 L57.6,452.9 L59.2,452.9 L60.8,452.9 L62.4,452.9 L64.0,452.9 L65.6,452.9 L67.2,452.9 L68.8,452.9 L70.4,452.9 L72.0,452.9 L73.6,452.9 L75.2,452.9 L76.8,452.9 L78.4,452.9 L80.0,452.9 L81.6,452.8 L83.2,452.8 L84.8,452.8 L86.4,452.8 L88.0,452.8 L89.6,452.8 L91.2,452.8 L92.8,452.8 L94.4,452.8 L96.0,452.8 L97.6,452.8 L99.2,452.8 L100.8,452.8 L102.4,452.8 L104.0,452.8 L105.6,452.8 L107.2,452.8 L108.8,452.8 L110.4,452.8 L112.0,452.8 L113.6,452.8 L115.2,452.8 L116.8,452.8 L118.4,452.8 L120.0,452.8 L121.6,452.8 L123.2,452.8 L124.8,452.8 L126.4,452.8 L128.0,452.8 L129.6,452.7 L131.2,452.7 L132.8,452.7 L134.4,452.8 L136.0,452.7 L137.6,452.8 L139.2,452.8 L140.8,452.7 L142.4,452.7 L144.0,452.7 L145.6,452.7 L147.2,452.7 L148.8,452.7 L150.4,452.7 L152.0,452.7 L153.6,452.7 L155.2,452.7 L156.8,452.7 L158.4,452.7 L160.0,452.7 L161.6,452.7 L163.2,452.7 L164.8,452.7 L166.4,452.6 L168.0,452.7 L169.6,452.7 L171.2,452.6 L172.8,452.7 L174.4,452.6 L176.0,452.6 L177.6,452.7 L179.2,452.7 L180.8,452.6 L182.4,452.6 L184.0,452.6 L185.6,452.6 L187.2,452.6 L188.8,452.6 L190.4,452.6 L192.0,452.6 L193.6,452.6 L195.2,452.6 L196.8,452.6 L198.4,452.6 L200.0,452.6 L201.6,452.6 L203.2,452.5 L204.8,452.4 L206.4,452.5 L208.0,452.4 L209.6,452.4 L211.2,452.1 L212.8,452.1 L214.4,452.0 L216.0,452.1 L217.6,451.9 L219.2,451.8 L220.8,451.9 L222.4,451.9 L224.0,451.9 L225.6,451.6 L227.2,451.6 L228.8,451.7 L230.4,451.6 L232.0,451.5 L233.6,451.1 L235.2,450.3 L236.8,449.7 L238.4,449.7 L240.0,449.0 L242.0,446.6 L244.0,444.4 L246.0,444.1 L248.0,446.3 L250.0,446.0 L251.7,446.4 L253.4,446.9 L255.1,446.0 L256.9,447.4 L258.6,446.5 L260.3,447.8 L262.0,447.5 L263.6,447.8 L265.2,448.1 L266.8,448.8 L268.4,449.5 L270.0,449.5 L271.7,449.1 L273.3,448.8 L275.0,449.0 L276.7,448.6 L278.3,448.3 L280.0,448.5 L281.7,448.1 L283.3,448.0 L285.0,448.2 L286.7,448.3 L288.3,448.3 L290.0,448.8 L291.7,448.3 L293.3,448.5 L295.0,448.2 L296.7,448.3 L298.3,448.0 L300.0,448.5 L301.7,448.5 L303.3,448.5 L305.0,449.5 L306.7,449.5 L308.3,449.5 L310.0,450.0 L311.7,450.1 L313.3,450.6 L315.0,450.2 L316.7,450.8 L318.3,450.7 L320.0,450.9 L321.7,451.2 L323.3,451.2 L325.0,451.4 L326.7,451.6 L328.3,451.8 L330.0,451.8 L331.7,451.8 L333.3,451.9 L335.0,451.9 L336.7,451.9 L338.3,451.8 L340.0,451.8 L341.7,451.8 L343.3,451.8 L345.0,451.8 L346.7,452.0 L348.3,451.9 L350.0,451.8 L351.7,451.8 L353.3,452.0 L355.0,452.1 L356.7,452.0 L358.3,451.9 L360.0,452.0 L361.7,451.9 L363.3,451.9 L365.0,451.9 L366.7,451.7 L368.3,451.8 L370.0,451.7 L371.7,451.9 L373.3,451.8 L375.0,451.6 L376.7,451.5 L378.3,451.7 L380.0,451.5 L381.7,451.5 L383.3,451.5 L385.0,451.5 L386.7,451.6 L388.3,451.7 L390.0,451.8 L391.7,451.7 L393.3,451.8 L395.0,451.7 L396.7,451.9 L398.3,451.9 L400.0,452.0 L401.6,452.0 L403.2,451.9 L404.8,451.9 L406.4,452.0 L408.0,452.0 L409.6,452.0 L411.2,452.0 L412.8,452.1 L414.4,452.1 L416.0,452.1 L417.6,452.1 L419.2,452.0 L420.8,452.0 L422.4,452.2 L424.0,452.0 L425.6,452.1 L427.2,452.1 L428.8,452.0 L430.4,452.2 L432.0,452.2 L433.6,452.1 L435.2,452.1 L436.8,452.2 L438.4,452.0 L440.0,452.1 L441.6,452.1 L443.2,452.0 L444.9,452.1 L446.5,452.1 L448.1,452.0 L449.7,452.0 L451.3,452.0 L453.0,451.9 L454.6,451.9 L456.2,451.8 L457.8,451.7 L459.4,451.7 L461.1,451.7 L462.7,451.6 L464.3,451.7 L465.9,451.8 L467.6,451.6 L469.2,451.6 L470.9,451.5 L472.6,451.5 L474.2,451.3 L475.9,451.1 L477.5,451.4 L479.2,451.3 L480.8,451.1 L482.5,451.1 L484.1,451.1 L485.8,450.7 L487.4,451.0 L489.1,450.7 L490.7,450.5 L492.4,450.6 L494.0,450.8 L495.7,450.4 L497.3,450.7 L499.0,450.7 L500.6,450.4 L502.2,450.3 L503.8,450.2 L505.5,450.2 L507.1,450.3 L508.7,450.3 L510.3,450.2 L511.9,450.2 L513.6,449.7 L515.2,449.7 L516.8,449.8 L518.4,450.1 L520.0,449.7 L521.7,449.8 L523.3,449.4 L524.9,449.7 L526.6,449.1 L528.2,449.1 L529.9,449.2 L531.5,449.0 L533.2,448.8 L534.9,448.2 L536.5,448.2 L538.2,448.0 L540.0,446.1 L541.9,444.4 L543.5,443.1 L545.1,440.9 L546.7,440.7 L548.3,441.3 L550.0,438.6 L551.6,439.0 L553.4,441.4 L555.2,440.7 L557.0,440.9 L558.8,438.3 L560.6,435.6 L562.5,436.3 L564.3,436.9 L566.1,434.7 L567.7,435.3 L569.4,432.0 L571.0,431.0 L573.4,423.8 L575.8,431.0 L577.6,431.9 L579.5,434.7 L581.9,432.9 L584.3,433.5 L585.9,436.9 L587.6,435.6 L589.2,438.3 L591.6,437.4 L594.0,435.9 L595.9,432.0 L597.7,431.0 L599.5,429.3 L601.3,427.4 L602.9,428.8 L604.5,425.1 L606.1,426.2 L608.0,429.9 L609.8,431.0 L611.4,429.2 L613.0,428.9 L614.6,425.5 L616.2,424.9 L617.9,421.6 L619.5,421.3 L621.9,421.7 L624.3,418.9 L625.9,419.6 L627.6,418.6 L629.2,421.3 L631.6,419.7 L634.0,422.1 L635.9,423.5 L637.7,425.0 L639.5,427.2 L641.3,429.8 L642.9,429.8 L644.6,430.0 L646.2,432.3 L648.2,431.7 L650.2,431.6 L652.2,432.3 L653.8,432.8 L655.5,428.6 L657.1,429.8 L658.9,430.2 L660.7,428.6 L662.3,430.8 L664.0,428.7 L665.6,431.0 L668.0,434.0 L670.4,433.5 L672.0,435.6 L673.7,437.5 L675.3,437.1 L676.9,438.0 L678.5,440.0 L680.1,442.0 L681.7,442.9 L683.4,445.4 L685.0,445.6 L687.4,445.2 L689.8,444.4 L691.4,442.8 L693.1,441.7 L694.7,440.7 L696.5,439.2 L698.2,437.6 L700.0,438.3 L701.6,438.7 L703.3,442.5 L704.9,443.2 L706.7,442.8 L708.5,444.4 L710.3,443.0 L712.1,443.2 L713.9,443.8 L715.9,443.3 L717.9,442.0 L719.9,442.3 L721.7,442.4 L723.5,444.2 L725.2,444.4 L727.0,444.7 L728.8,444.4 L730.8,444.7 L732.8,445.3 L734.8,444.4 L736.6,444.8 L738.4,443.3 L740.1,443.1 L741.9,440.8 L743.7,441.4 L745.4,441.9 L747.1,440.9 L748.8,441.6 L750.6,441.1 L752.3,439.9 L754.0,439.0 L755.7,440.2 L757.6,441.0 L759.4,437.8 L761.2,438.4 L763.1,437.9 L764.9,437.6 L766.6,437.7 L768.4,439.4 L770.1,440.5 L771.9,438.3 L773.6,439.3 L775.3,439.8 L776.9,438.6 L778.6,439.5 L780.2,439.0 L781.9,438.2 L783.5,438.2 L785.2,438.3 L786.8,440.6 L788.5,439.3 L790.2,439.5 L791.8,438.9 L793.5,441.3 L795.1,441.8 L796.8,440.3 L798.4,439.6 L800.1,440.0 L801.7,440.0 L803.4,441.4 L805.1,440.6 L806.8,439.6 L808.5,439.7 L810.3,439.5 L812.0,440.1 L813.7,440.8 L815.4,439.3 L817.2,439.6 L819.0,437.8 L820.7,437.2 L822.5,437.1 L824.3,436.4 L826.1,435.7 L827.9,435.4 L829.7,434.1 L831.5,434.8 L833.3,435.5 L835.1,437.0 L836.9,433.2 L838.6,434.3 L840.4,434.3 L842.2,433.4 L844.5,432.6 L846.7,428.9 L849.0,425.5 L851.2,424.4 L853.5,425.4 L855.7,428.3 L857.6,427.8 L859.4,428.9 L861.2,429.7 L863.1,430.4 L865.1,433.2 L867.1,433.8 L869.1,433.4 L871.4,431.4 L873.6,426.5 L875.5,424.8 L877.3,425.1 L879.1,428.0 L881.0,427.4 L883.0,430.0 L885.0,429.3 L887.0,430.4 L889.0,431.4 L891.0,429.8 L893.0,432.5 L895.0,433.1 L897.0,436.2 L899.0,435.5 L901.0,437.1 L902.9,437.5 L904.9,436.4 L906.9,437.6 L908.9,434.0 L910.9,434.3 L912.9,431.7 L914.9,430.9 L916.9,431.3 L918.9,429.8 L920.8,428.8 L922.8,426.5 L925.0,427.2 L927.3,424.4 L929.3,427.0 L931.3,428.4 L933.3,429.5 L935.1,431.2 L937.0,430.5 L938.9,431.5 L940.7,431.9 L942.7,432.1 L944.7,437.0 L946.7,437.9 L948.6,437.7 L950.5,440.7 L952.3,440.5 L954.2,440.8 L956.1,440.1 L957.9,439.4 L959.8,439.6 L961.6,440.2 L963.6,439.1 L965.6,437.8 L967.6,435.5 L969.5,433.9 L971.4,433.8 L973.2,435.6 L975.1,435.5 L977.1,435.1 L979.0,433.7 L981.0,433.4 L983.2,428.5 L985.5,425.9 L987.8,424.1 L990.0,421.4 L992.2,417.9 L994.5,418.4 L996.8,418.4 L999.0,419.9 L1001.2,419.0 L1003.4,418.4 L1006.4,419.3 L1006.5,453.5 L8,453.5 Z" fill="#eef1f5"/>
<line x1="8" y1="453" x2="1007" y2="453" stroke="#eceef2" stroke-width="1"/>
<rect x="999" y="423.5" width="14" height="20" rx="5" fill="#fff" stroke="#e4e6ea" stroke-width="0.8" style="filter:drop-shadow(0 1px 2px rgba(0,0,0,0.15))"/>
<line x1="1004.5" y1="430" x2="1004.5" y2="437" stroke="#9097a5" stroke-width="1"/>
<line x1="1007.5" y1="430" x2="1007.5" y2="437" stroke="#9097a5" stroke-width="1"/>
<text x="47.1" y="470" font-size="11" text-anchor="middle" fill="#7f838c">2016</text>
<text x="146.1" y="470" font-size="11" text-anchor="middle" fill="#7f838c">2017</text>
<text x="243.9" y="470" font-size="11" text-anchor="middle" fill="#7f838c">2018</text>
<text x="342" y="470" font-size="11" text-anchor="middle" fill="#7f838c">2019</text>
<text x="440" y="470" font-size="11" text-anchor="middle" fill="#7f838c">2020</text>
<text x="539" y="470" font-size="11" text-anchor="middle" fill="#7f838c">2021</text>
<text x="637" y="470" font-size="11" text-anchor="middle" fill="#7f838c">2022</text>
<text x="735" y="470" font-size="11" text-anchor="middle" fill="#7f838c">2023</text>
<text x="833" y="470" font-size="11" text-anchor="middle" fill="#7f838c">2024</text>
<text x="931.5" y="470" font-size="11" text-anchor="middle" fill="#7f838c">2025</text>
</svg>
</body></html>
